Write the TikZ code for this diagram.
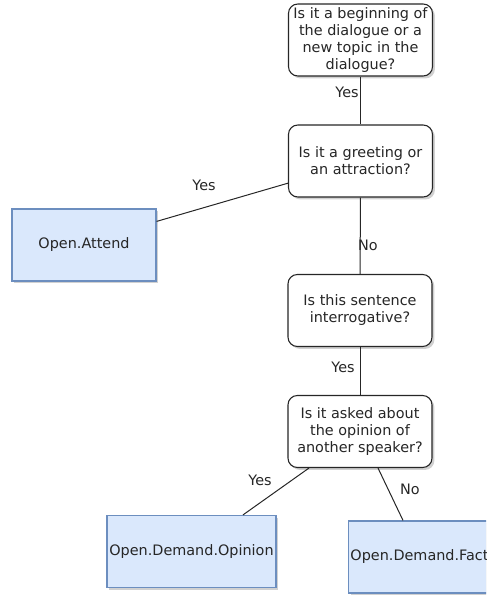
\documentclass[tikz,border=0pt]{standalone}
\usepackage{fontspec}
\setmainfont{DejaVu Sans}
\usetikzlibrary{shadows,calc}
\begin{document}
\begin{tikzpicture}[x=0.75pt,y=-0.75pt,
  every node/.style={font=\fontsize{10.8pt}{12.75pt}\selectfont, text=black!85},
  question/.style={draw=black!85, line width=0.8pt, fill=white, rounded corners=7pt,
    align=center, inner sep=0pt, minimum width=108pt, minimum height=54pt,
    drop shadow={shadow xshift=1.8pt, shadow yshift=-1.8pt, fill=black!30, opacity=0.6}},
  leaf/.style={draw=blue!35!black!40!cyan!60!gray, draw=bordercol, line width=0.9pt, fill=fillcol,
    align=center, inner sep=0pt, minimum height=54pt,
    drop shadow={shadow xshift=1.8pt, shadow yshift=-1.8pt, fill=black!30, opacity=0.6}},
  conn/.style={draw=black!85, line width=0.75pt},
  lbl/.style={inner sep=0pt}
]
\definecolor{fillcol}{HTML}{DAE8FC}
\definecolor{bordercol}{HTML}{6C8EBF}
\useasboundingbox (0,0) rectangle (486,596);
\clip (0,0) rectangle (486,596);

\node[question] (q1) at (360.5,40) {Is it a beginning of\\the dialogue or a\\new topic in the\\dialogue?};
\node[question] (q2) at (360.5,161) {Is it a greeting or\\an attraction?};
\node[question] (q3) at (360,310.5) {Is this sentence\\interrogative?};
\node[question] (q4) at (360,431.5) {Is it asked about\\the opinion of\\another speaker?};

\node[leaf, minimum width=108pt] (attend) at (84,245) {Open.Attend};
\node[leaf, minimum width=126.75pt] (opinion) at (191.5,551.5) {Open.Demand.Opinion};
\node[leaf, minimum width=107pt] (fact) at (419.5,557) {Open.Demand.Fact};

\draw[conn] (q1) -- (q2);
\draw[conn] (q2.197) -- (attend.18);
\draw[conn] (q2) -- (q3);
\draw[conn] (q3) -- (q4);
\draw[conn] ($(q4.south)+(-51,0)$) -- ($(opinion.north)+(51.5,0)$);
\draw[conn] ($(q4.south)+(18,0)$) -- ($(fact.north)+(-16.5,0)$);

\node[lbl] (l1) at (347,92) {Yes};
\node[lbl] (l2) at (204,185) {Yes};
\node[lbl] (l3) at (368,245) {No};
\node[lbl] (l4) at (343,367) {Yes};
\node[lbl] (l5) at (260,480) {Yes};
\node[lbl] (l6) at (410,489) {No};
\end{tikzpicture}
\end{document}
